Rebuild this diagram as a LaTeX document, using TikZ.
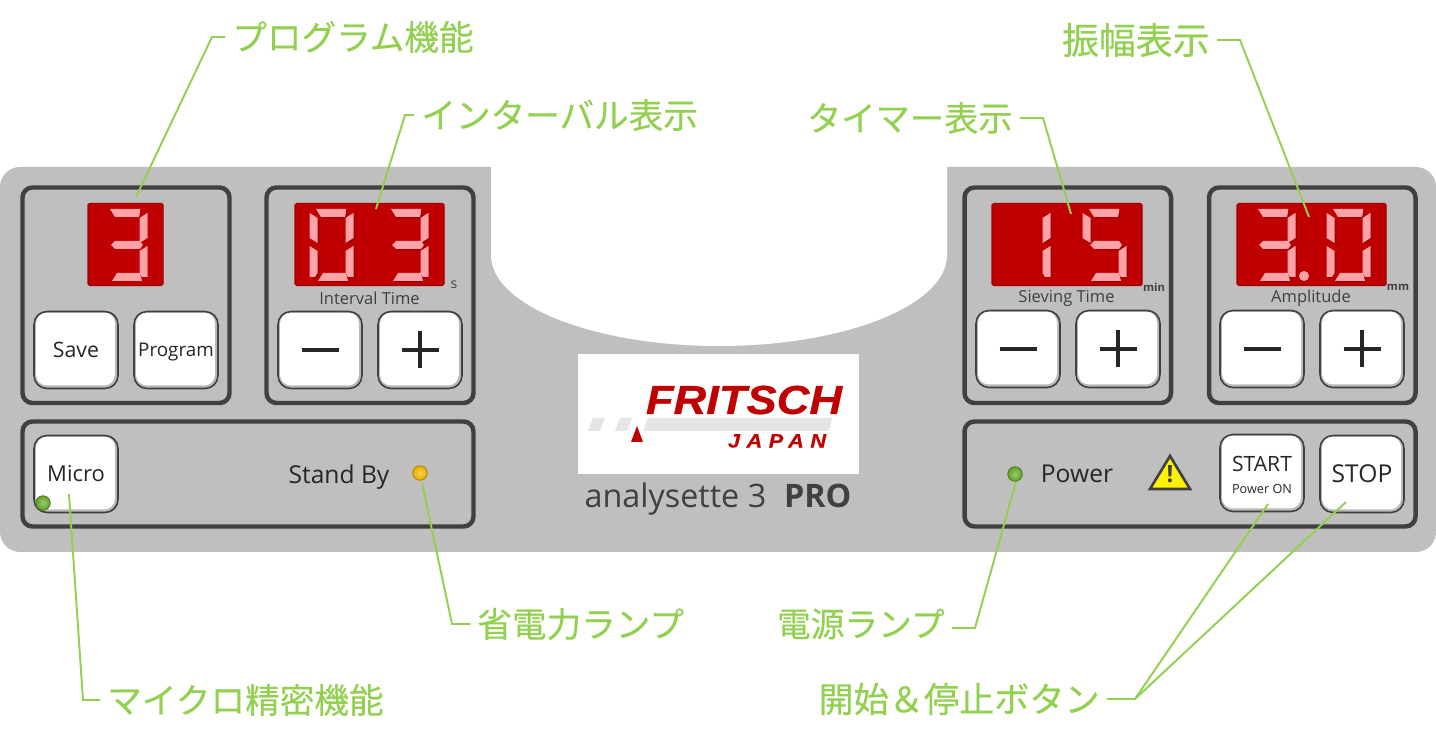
\documentclass[tikz,border=0pt]{standalone}
\usepackage{fontspec}
\setmainfont{Open Sans}
\newfontfamily\jpfont[FakeBold=.35]{Noto Sans CJK JP}
\newfontfamily\logofont[FakeStretch=1.12,FakeBold=.7]{Liberation Sans}
\usetikzlibrary{calc}
\definecolor{panelgray}{HTML}{BFBFBF}
\definecolor{framegray}{HTML}{404040}
\definecolor{inkgray}{HTML}{262626}
\definecolor{leadgreen}{HTML}{92D050}
\definecolor{fritschred}{HTML}{C00000}
\definecolor{segpink}{HTML}{FFA3A8}
\definecolor{segshade}{HTML}{A00000}
\definecolor{ledgreen}{HTML}{6DB32F}
\definecolor{ledgold}{HTML}{FFC000}
\tikzset{
  panelframe/.style={draw=framegray,line width=2.55pt,rounded corners=.2cm},
  display/.style={fill=fritschred,draw=segshade,line width=.6pt,rounded corners=.03cm},
  btn/.style={draw=framegray,line width=.9pt,rounded corners=.26cm,fill=gray!55,
    minimum width=1.68cm,minimum height=1.54cm,inner sep=0pt,text=inkgray,
    path picture={\fill[white,rounded corners=.22cm]
      ($(path picture bounding box.south west)+(.04cm,.06cm)$) rectangle
      ($(path picture bounding box.north east)+(-.06cm,-.02cm)$);}},
  signline/.style={draw=inkgray,line width=2.7pt},
  leader/.style={draw=leadgreen,line width=1.1pt},
  callout/.style={text=leadgreen,inner sep=.14cm,font=\jpfont\fontsize{19.7}{22}\selectfont},
  paneltext/.style={text=inkgray,inner sep=0pt},
  led/.style={circle,draw=#1!70!black,line width=.5pt,inner sep=0pt,minimum size=.29cm,
    inner color=#1!70!white,outer color=#1!90!black},
  caption/.style={text=framegray,inner sep=0pt,font=\fontsize{9.4}{11}\selectfont}
}
% seven segments, one digit cell starts at x=0
\newcommand{\sega}{(6,209)--(36,209)--(36,212)--(35,217)--(11,217)--cycle}
\newcommand{\segb}{(35.5,218)--(43.5,213)--(43.5,238)--(35.5,243)--cycle}
\newcommand{\segc}{(35.5,251)--(43.5,246)--(43.5,277)--(38,277)--(35.5,273)--cycle}
\newcommand{\segd}{(8,281)--(38,281)--(36,273)--(13,273)--cycle}
\newcommand{\sege}{(-.5,246)--(7.5,251)--(7.5,273)--(5,277)--(-.5,277)--cycle}
\newcommand{\segf}{(-.5,213)--(7.5,218)--(7.5,243)--(-.5,238)--cycle}
\newcommand{\segg}{(7,245)--(11,241)--(36,241)--(39,245)--(36,249)--(11,249)--cycle}
\newcommand{\digitcell}[3]{%
  \foreach \s in {#3}{\fill[segshade,shift={(#1+#2,#2)}] \csname seg\s\endcsname;}
  \foreach \s in {#3}{\fill[segpink,shift={(#1,0)}] \csname seg\s\endcsname;}}
\begin{document}
\begin{tikzpicture}[x=.02cm,y=-.02cm]
\useasboundingbox (0,0) rectangle (1436,742);
% panel
\fill[panelgray,rounded corners=.4cm] (0,167) rectangle (1436,552);
\fill[white] (491,160) -- (491,255) arc[start angle=180,end angle=0,x radius=228,y radius=91] -- (947,160) -- cycle;
\draw[panelframe] (22.5,187.5) rectangle (229.5,403);
\draw[panelframe] (266.5,187.5) rectangle (473.5,403);
\draw[panelframe] (964.5,187.5) rectangle (1171,403);
\draw[panelframe] (1209,187.5) rectangle (1415.5,403);
\draw[panelframe] (22.5,421.5) rectangle (473.5,526.5);
\draw[panelframe] (964.5,421.5) rectangle (1415.5,526.5);
% displays
\draw[display] (88,203.5) rectangle (163,285.5);
\draw[display] (295,203.5) rectangle (444,285.5);
\draw[display] (992,203.5) rectangle (1142,285.5);
\draw[display] (1237,203.5) rectangle (1386,285.5);
\digitcell{104}{0}{a,b,g,c,d}
\digitcell{310}{1.5}{a,b,c,d,e,f}
\digitcell{385}{1.5}{a,b,g,c,d}
\digitcell{1007}{1.5}{b,c}
\digitcell{1083}{1.5}{a,f,g,c,d}
\digitcell{1252}{1.5}{a,b,g,c,d}
\digitcell{1327}{1.5}{a,b,c,d,e,f}
\fill[segpink] (1304,276) circle (5);
% buttons
\node[btn,font=\fontsize{12.1}{14}\selectfont] (savebtn) at (76,350) {Save};
\node[btn,font=\fontsize{10.7}{13}\selectfont,text depth=0pt] (progbtn) at (176,350) {Program};
\node[btn] (intminus) at (320,350) {};
\node[btn] (intplus) at (420,350) {};
\node[btn] (sievminus) at (1018,349) {};
\node[btn] (sievplus) at (1118,349) {};
\node[btn] (ampminus) at (1262,349) {};
\node[btn] (ampplus) at (1362,349) {};
\node[btn,font=\fontsize{12.5}{15}\selectfont] (microbtn) at (76,474) {Micro};
\node[btn] (startbtn) at (1262,473) {};
\node[btn,font=\fontsize{14}{16}\selectfont] (stopbtn) at (1362,474) {STOP};
\foreach \b in {intminus,sievminus,ampminus,intplus,sievplus,ampplus}
  \draw[signline] ($(\b)+(-18.5,0)$) -- ($(\b)+(18.5,0)$);
\foreach \b in {intplus,sievplus,ampplus}
  \draw[signline] ($(\b)+(0,-18.5)$) -- ($(\b)+(0,18.5)$);
\node[paneltext,font=\fontsize{12}{14}\selectfont] (starttext) at (1262,464) {START};
\node[paneltext,font=\fontsize{7.2}{9}\selectfont] (poweron) at (1262,489) {Power ON};
% captions
\node[caption] (intcap) at (369.5,298) {Interval Time};
\node[caption] (sievcap) at (1066.5,298) {Sieving Time};
\node[caption] (ampcap) at (1311,298) {Amplitude};
\node[caption,font=\fontsize{8}{9}\selectfont] (secunit) at (454,285) {s};
\node[caption,font=\bfseries\fontsize{6.4}{8}\selectfont] (minunit) at (1154,287) {min};
\node[caption,font=\bfseries\fontsize{6.4}{8}\selectfont] (mmunit) at (1398,287) {mm};
\node[paneltext,font=\fontsize{14}{16}\selectfont,text depth=0pt] (standby) at (339,474) {Stand By};
\node[paneltext,font=\fontsize{14}{16}\selectfont] (powertext) at (1077,474) {Power};
% lamps
\node[led=ledgreen] (microled) at (43,503) {};
\node[led=ledgold] (standled) at (420,473) {};
\node[led=ledgreen] (powerled) at (1015,474) {};
% warning sign
\draw[fill=yellow,draw=framegray,line width=1.5pt,line join=miter] (1170,456) -- (1190,489) -- (1150,489) -- cycle;
\node[text=framegray,inner sep=0pt,font=\bfseries\fontsize{13.5}{15}\selectfont] (warnmark) at (1170,474) {!};
% logo
\fill[white] (578,354) rectangle (859,474);
\fill[black!10] (588,431) -- (593,418) -- (605,418) -- (600,431) -- cycle;
\fill[black!10] (615,431) -- (620,418) -- (632,418) -- (627,431) -- cycle;
\fill[black!10] (643,431) -- (648,418) -- (832,418) -- (829,431) -- cycle;
\fill[fritschred] (637,426) -- (643,442) -- (631,442) -- cycle;
\node[text=fritschred,inner sep=0pt,font=\logofont\bfseries\itshape\fontsize{23}{25}\selectfont] (fritsch) at (744,400) {FRITSCH};
\node[text=fritschred,inner sep=0pt,font=\logofont\bfseries\itshape\fontsize{11}{12}\selectfont\addfontfeature{LetterSpace=34}] (japan) at (777,441) {JAPAN};
\node[text=framegray,inner sep=0pt,font=\fontsize{18.4}{20}\selectfont] (model) at (718,499) {analysette 3\hspace{.55em}\textbf{PRO}};
% callouts
\node[callout,anchor=west] (proglabel) at (225,37) {プログラム機能};
\node[callout,anchor=west] (intlabel) at (414,115) {インターバル表示};
\node[callout,anchor=east,font=\jpfont\fontsize{19.5}{22}\selectfont] (timelabel) at (1020,118) {タイマー表示};
\node[callout,anchor=east,font=\jpfont\fontsize{21}{22}\selectfont] (amplabel) at (1217,40) {振幅表示};
\node[callout,anchor=west] (savelabel) at (470,624) {省電力ランプ};
\node[callout,anchor=east,font=\jpfont\fontsize{19.2}{22}\selectfont] (powerlabel) at (952,624) {電源ランプ};
\node[callout,anchor=west] (microlabel) at (100,700) {マイクロ精密機能};
\node[callout,anchor=east,font=\jpfont\fontsize{20}{22}\selectfont] (btnlabel) at (1107,699) {開始＆停止ボタン};
\coordinate (progbend) at (212,37);
\coordinate (progtip) at (136,197);
\coordinate (intbend) at (405,115);
\coordinate (inttip) at (376,209);
\coordinate (timebend) at (1043,118);
\coordinate (timetip) at (1071,214);
\coordinate (ampbend) at (1240,40);
\coordinate (amptip) at (1309,217);
\coordinate (savebend) at (452,624);
\coordinate (savetip) at (422,483);
\coordinate (powerbend) at (975,628);
\coordinate (powertip) at (1016,482);
\coordinate (microbend) at (83,700);
\coordinate (microtip) at (69,494);
\coordinate (btnbend) at (1135,699);
\coordinate (starttip) at (1268,504);
\coordinate (stoptip) at (1346,502);
\draw[leader] (proglabel.west) -- (progbend) -- (progtip);
\draw[leader] (intlabel.west) -- (intbend) -- (inttip);
\draw[leader] (timelabel.east) -- (timebend) -- (timetip);
\draw[leader] (amplabel.east) -- (ampbend) -- (amptip);
\draw[leader] (savelabel.west) -- (savebend) -- (savetip);
\draw[leader] (powerlabel.east |- powerbend) -- (powerbend) -- (powertip);
\draw[leader] (microlabel.west) -- (microbend) -- (microtip);
\draw[leader] (btnlabel.east) -- (btnbend) -- (starttip);
\draw[leader] (btnbend) -- (stoptip);
\end{tikzpicture}
\end{document}
